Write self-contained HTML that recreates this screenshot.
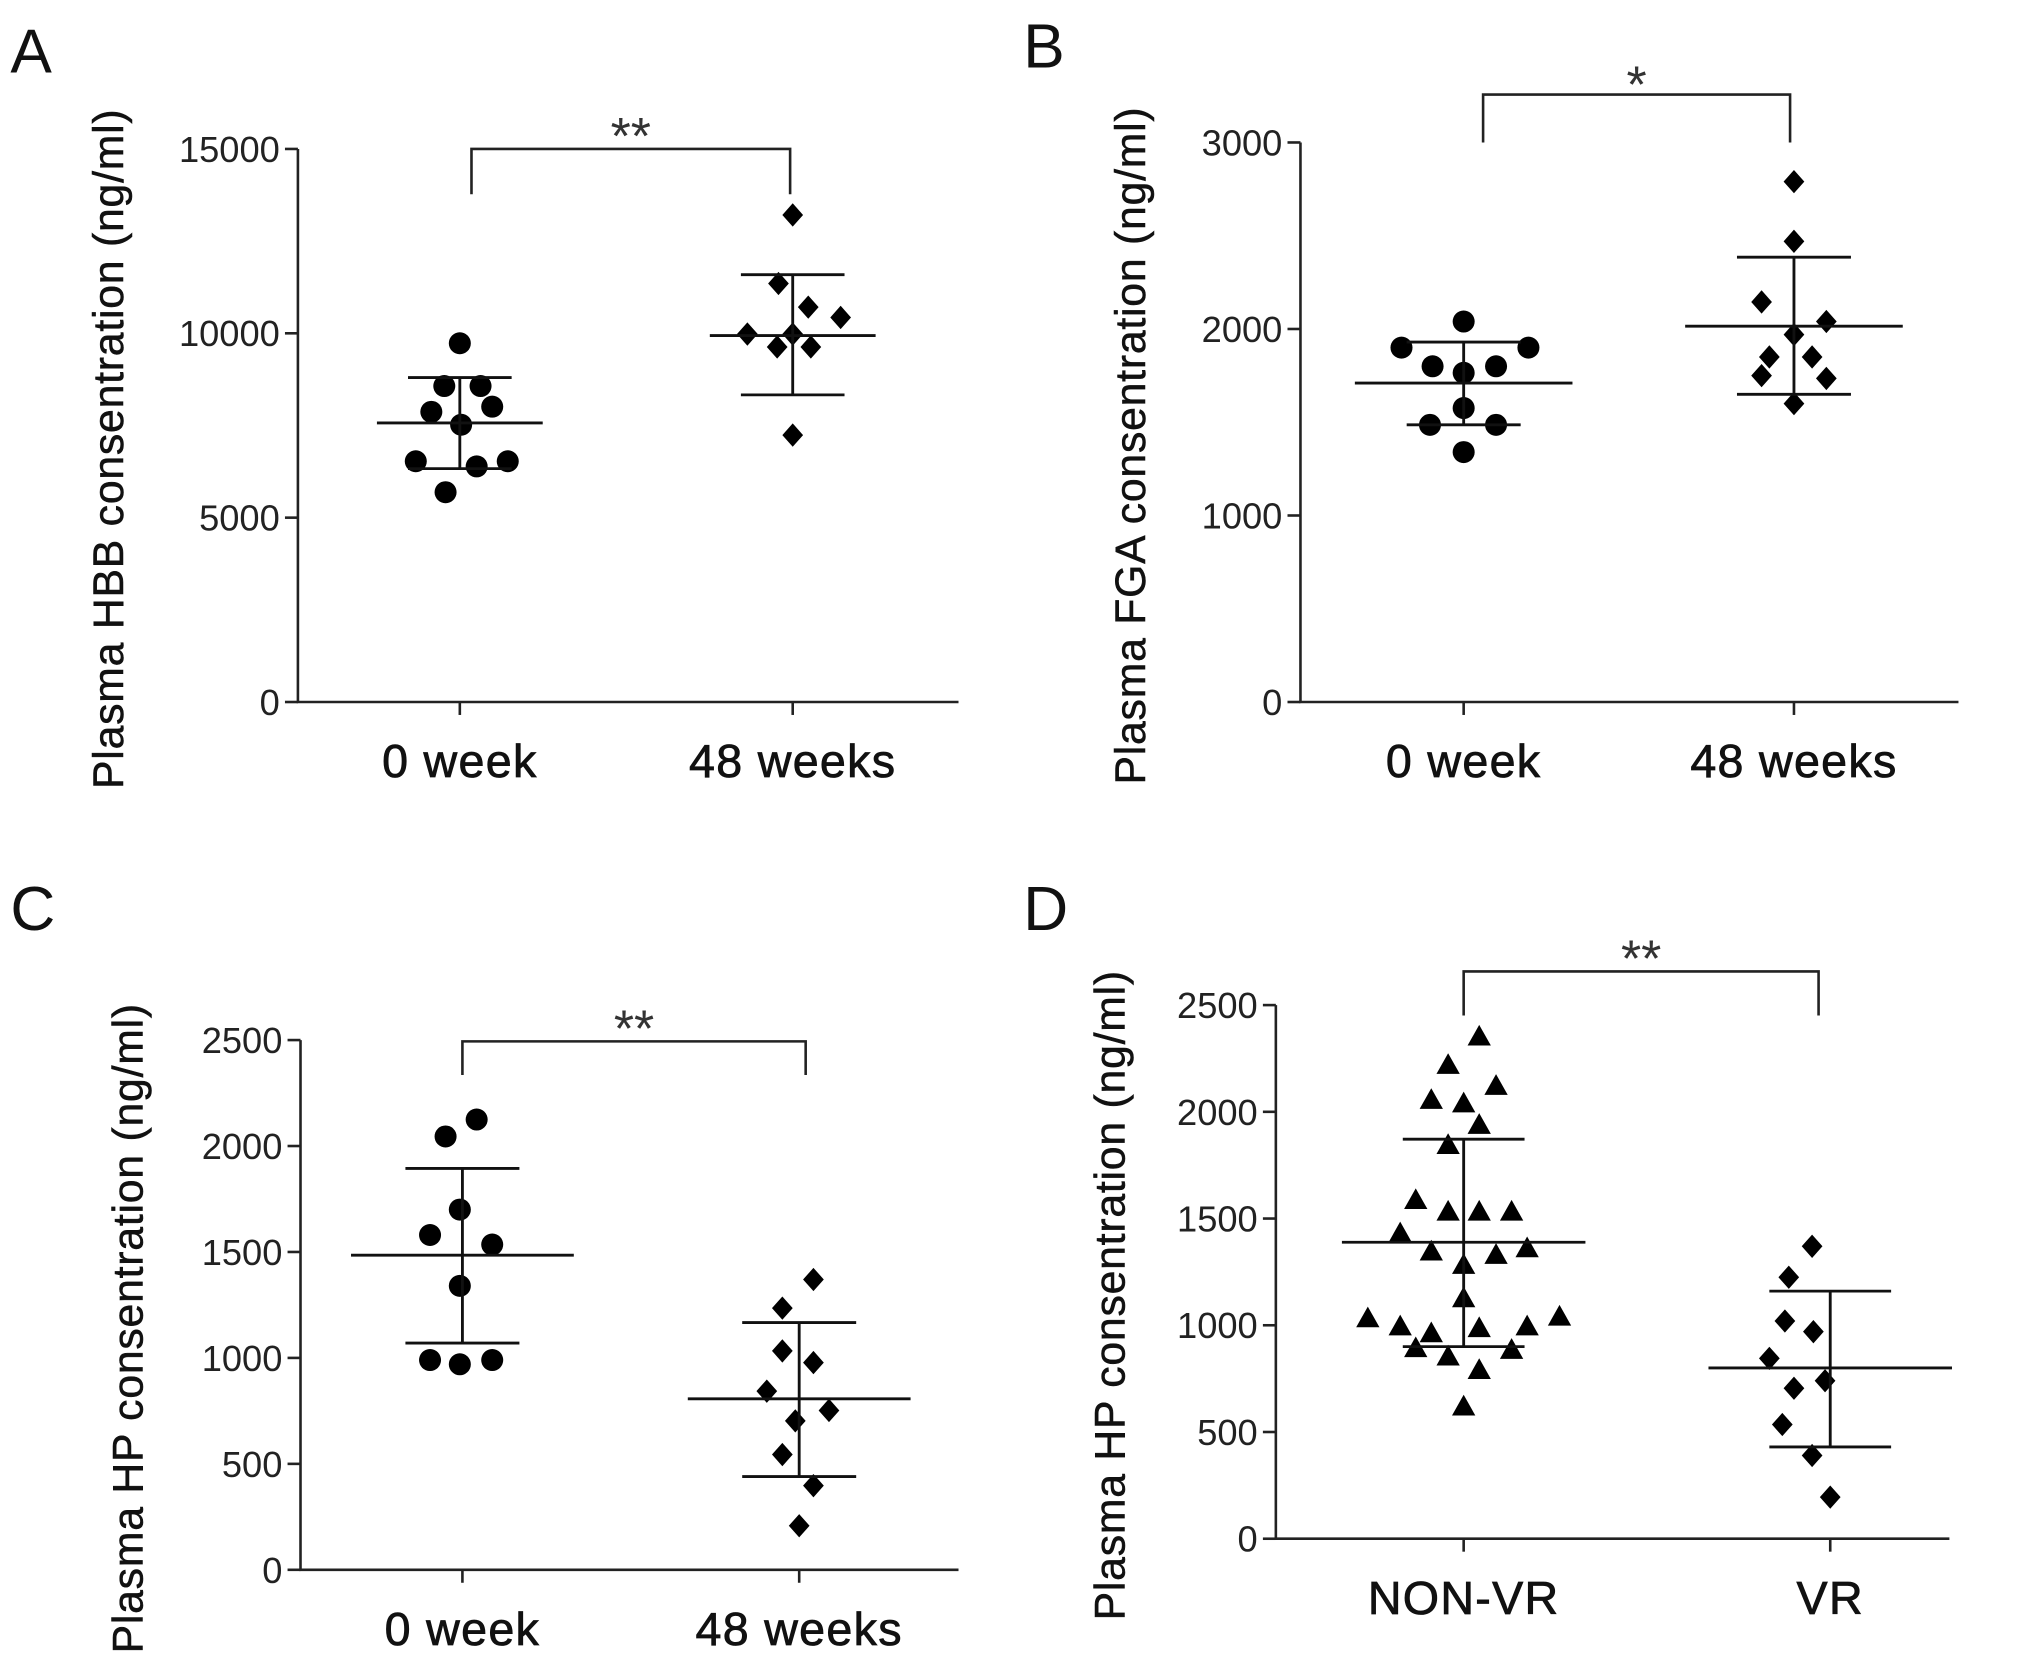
<!DOCTYPE html>
<html><head><meta charset="utf-8"><style>
html,body{margin:0;padding:0;background:#fff;}
svg{display:block;font-family:"Liberation Sans",Arial,sans-serif;}
</style></head><body>
<svg id="fig" width="2031" height="1654" viewBox="0 0 1568 1277" preserveAspectRatio="none" xmlns="http://www.w3.org/2000/svg"></svg>
<script>
// Panel A data (HBB)
const aCategories = ["0 week", "48 weeks"];
const aTicks = [0, 5000, 10000, 15000];
const aGroup1 = [9730, 8570, 8570, 7870, 8010, 7520, 6530, 6390, 6530, 5690];
const aGroup2 = [13210, 11350, 10710, 10430, 9980, 9980, 9630, 9630, 7240];
const aStats = [[7570, 8800, 6330], [9940, 11590, 8330]];
// Panel B data (FGA)
const bCategories = ["0 week", "48 weeks"];
const bTicks = [0, 1000, 2000, 3000];
const bGroup1 = [2040, 1900, 1900, 1800, 1800, 1765, 1576, 1486, 1486, 1340];
const bGroup2 = [2790, 2470, 2145, 2040, 1970, 1850, 1850, 1750, 1735, 1600];
const bStats = [[1710, 1930, 1486], [2015, 2385, 1650]];
// Panel C data (HP)
const cCategories = ["0 week", "48 weeks"];
const cTicks = [0, 500, 1000, 1500, 2000, 2500];
const cGroup1 = [2125, 2045, 1700, 1580, 1535, 1340, 990, 970, 990];
const cGroup2 = [1370, 1235, 1033, 978, 843, 752, 703, 544, 397, 208];
const cStats = [[1485, 1894, 1070], [807, 1167, 440]];
// Panel D data (HP, NON-VR vs VR)
const dCategories = ["NON-VR", "VR"];
const dTicks = [0, 500, 1000, 1500, 2000, 2500];
const dGroup1 = [2353, 2220, 2122, 2056, 2040, 1939, 1845, 1587, 1533, 1533, 1533, 1431, 1346, 1330, 1361, 1283, 1127, 1033, 995, 963, 987, 995, 1041, 893, 854, 885, 791, 620];
const dGroup2 = [1370, 1225, 1020, 970, 845, 740, 705, 535, 390, 195];
const dStats = [[1389, 1872, 900], [800, 1160, 430]];

// layout (positions only)
const jA1 = [0,-12,16,-22,25,1,-34,13,37,-11], jA2 = [0,-11,12,37,-35,0,-12,14,0];
const jB1 = [0,-48,50,-24,25,0,0,-26,25,0], jB2 = [0,0,-25,25,0,-19,14,-25,25,0];
const jC1 = [11,-13,-2,-25,23,-2,-25,-2,23], jC2 = [11,-13,-13,11,-25,23,-3,-13,11,0];
const jD1 = [12,-12,25,-25,0,12,-12,-37,-12,12,37,-49,-25,25,49,0,0,-74,-49,-25,12,49,74,-37,-12,37,12,0];
const jD2 = [-14,-32,-35,-13,-47,-4,-28,-37,-14,0];

const NS = "http://www.w3.org/2000/svg";
const svg = document.getElementById("fig");
function mk(tag, attrs, parent){ const e=document.createElementNS(NS,tag); for(const k in attrs) e.setAttribute(k,attrs[k]); (parent||svg).appendChild(e); return e; }

function panel(p){
  const g = mk("g",{});
  
  
  const ys = v => p.y0 - (v - 0) / p.max * (p.y0 - p.yTop);
  const xs = i => p.cx[i];
  const lt = mk("text",{x:p.letter[0],y:p.letter[1],"font-size":48,fill:"#111"},g); lt.textContent=p.key.toUpperCase();
  
  
  const ax = mk("path",{d:`M${p.ax},${ys(p.max)} L${p.ax},${p.y0} L${p.xEnd},${p.y0}`,stroke:"#222","stroke-width":2,fill:"none"},g);
  
  
  p.ticks.forEach(t=>{
    mk("line",{x1:p.ax-10,x2:p.ax,y1:ys(t),y2:ys(t),stroke:"#222","stroke-width":2},g);
    const tx = mk("text",{x:p.ax-14,y:ys(t)+10,"font-size":28,"text-anchor":"end",fill:"#222"},g); tx.textContent=t;
    
    
  });
  p.cats.forEach((c,i)=>{
    mk("line",{x1:xs(i),x2:xs(i),y1:p.y0,y2:p.y0+10,stroke:"#222","stroke-width":2},g);
    const tx = mk("text",{x:xs(i),y:p.y0+58,"font-size":36,"text-anchor":"middle",fill:"#111","letter-spacing":"1","stroke":"#111","stroke-width":0.6},g); tx.textContent=c;
    
    
  });
  const yt = mk("text",{transform:`translate(${p.titleX},${(ys(p.max)+p.y0)/2+18}) rotate(-90)`,"font-size":33,"text-anchor":"middle",fill:"#111","letter-spacing":"0.6","stroke":"#111","stroke-width":0.4},g); yt.textContent=p.title;
  
  
  [p.g1,p.g2].forEach((arr,gi)=>{
    arr.forEach((v,k)=>{
      const x = xs(gi) + (gi===0?p.j1:p.j2)[k], y = ys(v);
      const sh = gi===0?p.m1:p.m2; let m;
      if(sh==="circle") m = mk("circle",{cx:x,cy:y,r:8.5,fill:"#000"},g);
      else if(sh==="diamond") m = mk("path",{d:`M${x},${y-9} L${x+8},${y} L${x},${y+9} L${x-8},${y} Z`,fill:"#000"},g);
      else m = mk("path",{d:`M${x},${y-9} L${x+9},${y+7} L${x-9},${y+7} Z`,fill:"#000"},g);
      
      
    });
    const s = p.stats[gi], cx = xs(gi);
    const eb = mk("path",{d:`M${cx-p.mw},${ys(s[0])} L${cx+p.mw},${ys(s[0])} M${cx-p.sw},${ys(s[1])} L${cx+p.sw},${ys(s[1])} M${cx-p.sw},${ys(s[2])} L${cx+p.sw},${ys(s[2])} M${cx},${ys(s[1])} L${cx},${ys(s[2])}`,stroke:"#111","stroke-width":2.2,fill:"none"},g);
    
    
  });
  const b = p.br;
  const br = mk("path",{d:`M${b[0]},${b[3]} L${b[0]},${b[2]} L${b[1]},${b[2]} L${b[1]},${b[3]}`,stroke:"#222","stroke-width":2,fill:"none"},g);
  
  
  const st = mk("text",{x:(b[0]+b[1])/2,y:b[2]+p.starDy,"font-size":40,"text-anchor":"middle",fill:"#333"},g); st.textContent=p.stars;
  
  
}

panel({key:"a",letter:[8,56],ax:230,xEnd:740,y0:542,yTop:115,max:15000,ticks:aTicks,cats:aCategories,cx:[355,612],
  title:"Plasma HBB consentration (ng/ml)",titleX:95,g1:aGroup1,g2:aGroup2,j1:jA1,j2:jA2,m1:"circle",m2:"diamond",stats:aStats,mw:64,sw:40,
  br:[364,610,115,150],stars:"**",starDy:4});
panel({key:"b",letter:[790,52],ax:1004,xEnd:1512,y0:542,yTop:110,max:3000,ticks:bTicks,cats:bCategories,cx:[1130,1385],
  title:"Plasma FGA consentration (ng/ml)",titleX:884,g1:bGroup1,g2:bGroup2,j1:jB1,j2:jB2,m1:"circle",m2:"diamond",stats:bStats,mw:84,sw:44,
  br:[1145,1382,73,110],stars:"*",starDy:6});
panel({key:"c",letter:[8,718],ax:232,xEnd:740,y0:1212,yTop:803,max:2500,ticks:cTicks,cats:cCategories,cx:[357,617],
  title:"Plasma HP consentration (ng/ml)",titleX:110,g1:cGroup1,g2:cGroup2,j1:jC1,j2:jC2,m1:"circle",m2:"diamond",stats:cStats,mw:86,sw:44,
  br:[357,622,804,830],stars:"**",starDy:4});
panel({key:"d",letter:[790,718],ax:985,xEnd:1505,y0:1188,yTop:776,max:2500,ticks:dTicks,cats:dCategories,cx:[1130,1413],
  title:"Plasma HP consentration (ng/ml)",titleX:868,g1:dGroup1,g2:dGroup2,j1:jD1,j2:jD2,m1:"triangle",m2:"diamond",stats:dStats,mw:94,sw:47,
  br:[1130,1404,750,784],stars:"**",starDy:4});
</script>
</body></html>
